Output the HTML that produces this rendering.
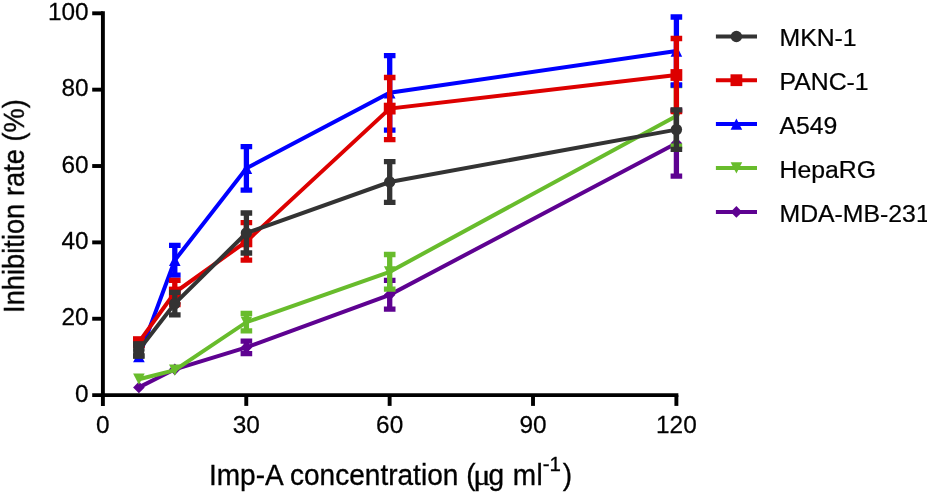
<!DOCTYPE html>
<html><head><meta charset="utf-8"><title>Inhibition rate</title>
<style>
html,body{margin:0;padding:0;background:#fff;}
body{width:927px;height:494px;overflow:hidden;}
svg{display:block;}
text{font-family:"Liberation Sans",Arial,Helvetica,sans-serif;fill:#000;}
.tk{font-size:24.4px;stroke:#000;stroke-width:0.25px;}
.lg{font-size:24.8px;stroke:#000;stroke-width:0.25px;}
.ti{font-size:28.05px;stroke:#000;stroke-width:0.32px;}
.mu{font-family:"Liberation Serif","DejaVu Serif",serif;}
</style></head><body>
<svg width="927" height="494" viewBox="0 0 927 494">
<rect width="927" height="494" fill="#fff"/>

<g>
<polyline points="138.9,387.4 174.8,369.3 246.4,347.4 389.7,294.8 676.4,143.3" fill="none" stroke="#5E0291" stroke-width="4.0" stroke-linejoin="miter"/>
<path d="M246.4,341.20V353.60M240.60,341.20H252.20M240.60,353.60H252.20" stroke="#5E0291" stroke-width="5.3" fill="none"/>
<path d="M389.7,280.40V309.20M383.90,280.40H395.50M383.90,309.20H395.50" stroke="#5E0291" stroke-width="5.3" fill="none"/>
<path d="M676.4,110.50V176.10M670.60,110.50H682.20M670.60,176.10H682.20" stroke="#5E0291" stroke-width="5.3" fill="none"/>
<polygon points="138.90,381.55 144.70,387.40 138.90,393.25 133.10,387.40" fill="#5E0291"/>
<polygon points="174.80,363.45 180.60,369.30 174.80,375.15 169.00,369.30" fill="#5E0291"/>
<polygon points="246.40,341.55 252.20,347.40 246.40,353.25 240.60,347.40" fill="#5E0291"/>
<polygon points="389.70,288.95 395.50,294.80 389.70,300.65 383.90,294.80" fill="#5E0291"/>
<polygon points="676.40,137.45 682.20,143.30 676.40,149.15 670.60,143.30" fill="#5E0291"/>
</g>
<g>
<polyline points="138.9,379.2 174.8,370.1 246.4,322.2 389.7,271.8 676.4,115.9" fill="none" stroke="#68BC2C" stroke-width="4.0" stroke-linejoin="miter"/>
<path d="M246.4,313.45V330.95M240.60,313.45H252.20M240.60,330.95H252.20" stroke="#68BC2C" stroke-width="5.3" fill="none"/>
<path d="M389.7,254.50V289.10M383.90,254.50H395.50M383.90,289.10H395.50" stroke="#68BC2C" stroke-width="5.3" fill="none"/>
<path d="M676.4,85.70V146.10M670.60,85.70H682.20M670.60,146.10H682.20" stroke="#68BC2C" stroke-width="5.3" fill="none"/>
<polygon points="138.90,384.85 133.10,373.55 144.70,373.55" fill="#68BC2C"/>
<polygon points="174.80,375.75 169.00,364.45 180.60,364.45" fill="#68BC2C"/>
<polygon points="246.40,327.85 240.60,316.55 252.20,316.55" fill="#68BC2C"/>
<polygon points="389.70,277.45 383.90,266.15 395.50,266.15" fill="#68BC2C"/>
<polygon points="676.40,121.55 670.60,110.25 682.20,110.25" fill="#68BC2C"/>
</g>
<g>
<polyline points="138.9,356.7 174.8,260.3 246.4,168.3 389.7,92.8 676.4,51.0" fill="none" stroke="#0000FF" stroke-width="4.0" stroke-linejoin="miter"/>
<path d="M174.8,245.40V275.20M169.00,245.40H180.60M169.00,275.20H180.60" stroke="#0000FF" stroke-width="5.3" fill="none"/>
<path d="M246.4,146.55V190.05M240.60,146.55H252.20M240.60,190.05H252.20" stroke="#0000FF" stroke-width="5.3" fill="none"/>
<path d="M389.7,55.55V130.05M383.90,55.55H395.50M383.90,130.05H395.50" stroke="#0000FF" stroke-width="5.3" fill="none"/>
<path d="M676.4,17.00V85.00M670.60,17.00H682.20M670.60,85.00H682.20" stroke="#0000FF" stroke-width="5.3" fill="none"/>
<polygon points="138.90,351.05 133.10,362.35 144.70,362.35" fill="#0000FF"/>
<polygon points="174.80,254.65 169.00,265.95 180.60,265.95" fill="#0000FF"/>
<polygon points="246.40,162.65 240.60,173.95 252.20,173.95" fill="#0000FF"/>
<polygon points="389.70,87.15 383.90,98.45 395.50,98.45" fill="#0000FF"/>
<polygon points="676.40,45.35 670.60,56.65 682.20,56.65" fill="#0000FF"/>
</g>
<g>
<polyline points="138.9,342.1 174.8,292.5 246.4,241.4 389.7,108.6 676.4,75.0" fill="none" stroke="#DD0000" stroke-width="4.0" stroke-linejoin="miter"/>
<path d="M174.8,280.30V304.70M169.00,280.30H180.60M169.00,304.70H180.60" stroke="#DD0000" stroke-width="5.3" fill="none"/>
<path d="M246.4,222.70V260.10M240.60,222.70H252.20M240.60,260.10H252.20" stroke="#DD0000" stroke-width="5.3" fill="none"/>
<path d="M389.7,77.50V139.70M383.90,77.50H395.50M383.90,139.70H395.50" stroke="#DD0000" stroke-width="5.3" fill="none"/>
<path d="M676.4,38.50V111.50M670.60,38.50H682.20M670.60,111.50H682.20" stroke="#DD0000" stroke-width="5.3" fill="none"/>
<rect x="133.00" y="336.20" width="11.8" height="11.8" fill="#DD0000"/>
<rect x="168.90" y="286.60" width="11.8" height="11.8" fill="#DD0000"/>
<rect x="240.50" y="235.50" width="11.8" height="11.8" fill="#DD0000"/>
<rect x="383.80" y="102.70" width="11.8" height="11.8" fill="#DD0000"/>
<rect x="670.50" y="69.10" width="11.8" height="11.8" fill="#DD0000"/>
</g>
<g>
<polyline points="138.9,350.0 174.8,303.6 246.4,233.0 389.7,182.0 676.4,129.6" fill="none" stroke="#333333" stroke-width="4.0" stroke-linejoin="miter"/>
<path d="M138.9,344.00V356.00M133.10,344.00H144.70M133.10,356.00H144.70" stroke="#333333" stroke-width="5.3" fill="none"/>
<path d="M174.8,292.30V314.90M169.00,292.30H180.60M169.00,314.90H180.60" stroke="#333333" stroke-width="5.3" fill="none"/>
<path d="M246.4,213.00V253.00M240.60,213.00H252.20M240.60,253.00H252.20" stroke="#333333" stroke-width="5.3" fill="none"/>
<path d="M389.7,161.70V202.30M383.90,161.70H395.50M383.90,202.30H395.50" stroke="#333333" stroke-width="5.3" fill="none"/>
<path d="M676.4,109.80V149.40M670.60,109.80H682.20M670.60,149.40H682.20" stroke="#333333" stroke-width="5.3" fill="none"/>
<circle cx="138.9" cy="350.0" r="5.7" fill="#333333"/>
<circle cx="174.8" cy="303.6" r="5.7" fill="#333333"/>
<circle cx="246.4" cy="233.0" r="5.7" fill="#333333"/>
<circle cx="389.7" cy="182.0" r="5.7" fill="#333333"/>
<circle cx="676.4" cy="129.6" r="5.7" fill="#333333"/>
<rect x="133.2" y="341.6" width="10.9" height="17" fill="#333333"/>
</g>
<g stroke="#000" stroke-width="3.9" fill="none">
<path d="M102.9,11.35V405.9"/>
<path d="M92.2,395.1H678.35"/>
<path d="M92.2,318.74H102.9"/>
<path d="M92.2,242.38H102.9"/>
<path d="M92.2,166.02H102.9"/>
<path d="M92.2,89.66H102.9"/>
<path d="M92.2,13.30H102.9"/>
<path d="M246.27,395.1V405.9"/>
<path d="M389.64,395.1V405.9"/>
<path d="M533.01,395.1V405.9"/>
<path d="M676.38,395.1V405.9"/>
</g>
<g style="opacity:0.999">
<text class="tk" transform="translate(88.6,401.60) scale(1,1.01)" text-anchor="end">0</text>
<text class="tk" transform="translate(88.6,325.24) scale(1,1.01)" text-anchor="end">20</text>
<text class="tk" transform="translate(88.6,248.88) scale(1,1.01)" text-anchor="end">40</text>
<text class="tk" transform="translate(88.6,172.52) scale(1,1.01)" text-anchor="end">60</text>
<text class="tk" transform="translate(88.6,96.16) scale(1,1.01)" text-anchor="end">80</text>
<text class="tk" transform="translate(88.6,19.80) scale(1,1.01)" text-anchor="end">100</text>
<text class="tk" transform="translate(102.90,432.7) scale(1,1.01)" text-anchor="middle">0</text>
<text class="tk" transform="translate(246.27,432.7) scale(1,1.01)" text-anchor="middle">30</text>
<text class="tk" transform="translate(389.64,432.7) scale(1,1.01)" text-anchor="middle">60</text>
<text class="tk" transform="translate(533.01,432.7) scale(1,1.01)" text-anchor="middle">90</text>
<text class="tk" transform="translate(676.38,432.7) scale(1,1.01)" text-anchor="middle">120</text>
<text class="ti" transform="translate(208.9,484.9) scale(1,1.055)">Imp-A concentration (</text>
<text class="ti mu" transform="translate(473.2,484.9) scale(1.15,1.02)">μ</text>
<text class="ti" transform="translate(488.5,484.9) scale(1,1.055)">g</text>
<text class="ti" style="letter-spacing:0.4px" transform="translate(512.7,484.9) scale(1,1.055)">ml</text>
<text class="ti" style="font-size:20.5px" transform="translate(542.7,470.9) scale(1,1.01)">-1</text>
<text class="ti" transform="translate(562.8,484.9) scale(1,1.055)">)</text>
<text class="ti" style="font-size:27.3px" transform="translate(24.3,206.05) rotate(-90) scale(1,1.055)" text-anchor="middle">Inhibition rate (%)</text>
<text class="lg" transform="translate(779.5,46.05) scale(1,0.985)">MKN-1</text>
<text class="lg" transform="translate(779.5,89.80) scale(1,0.985)">PANC-1</text>
<text class="lg" transform="translate(779.5,133.65) scale(1,0.985)">A549</text>
<text class="lg" transform="translate(779.5,177.55) scale(1,0.985)">HepaRG</text>
<text class="lg" transform="translate(779.5,221.50) scale(1,0.985)">MDA-MB-231</text>
</g>
<path d="M715.9,36.45H757" stroke="#333333" stroke-width="4.0"/>
<circle cx="736.4" cy="36.45" r="5.7" fill="#333333"/>
<path d="M715.9,80.2H757" stroke="#DD0000" stroke-width="4.0"/>
<rect x="730.50" y="74.30" width="11.8" height="11.8" fill="#DD0000"/>
<path d="M715.9,124.05H757" stroke="#0000FF" stroke-width="4.0"/>
<polygon points="736.40,118.40 730.60,129.70 742.20,129.70" fill="#0000FF"/>
<path d="M715.9,167.95H757" stroke="#68BC2C" stroke-width="4.0"/>
<polygon points="736.40,173.60 730.60,162.30 742.20,162.30" fill="#68BC2C"/>
<path d="M715.9,211.9H757" stroke="#5E0291" stroke-width="4.0"/>
<polygon points="736.40,206.05 742.20,211.90 736.40,217.75 730.60,211.90" fill="#5E0291"/>
</svg></body></html>
